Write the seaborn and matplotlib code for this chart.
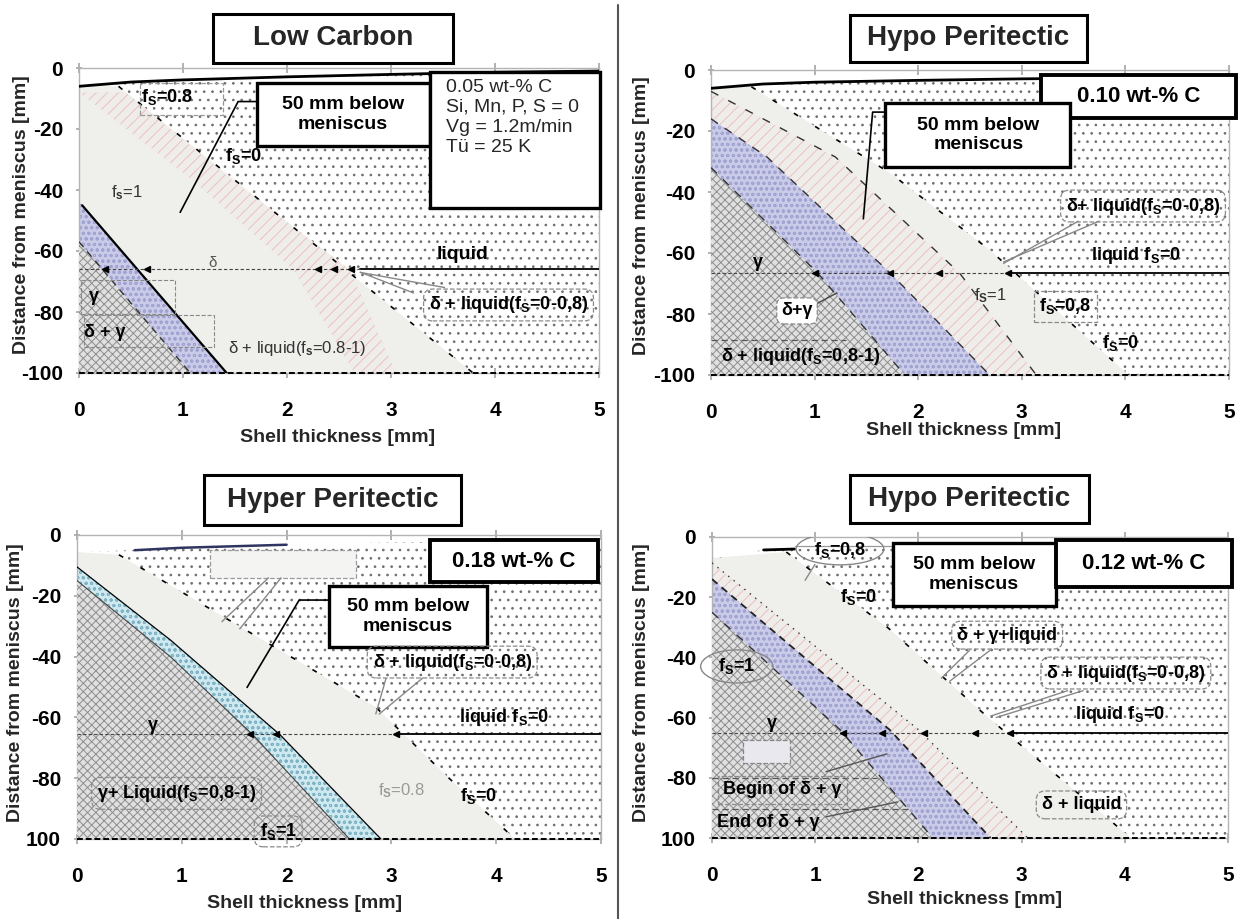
import numpy as np
import pandas as pd
import matplotlib
matplotlib.use("Agg")
import matplotlib.pyplot as plt
import seaborn as sns
from matplotlib.patches import Rectangle, Ellipse
from matplotlib.lines import Line2D

sns.set_theme(style="white")
plt.rcParams["font.family"] = ["Liberation Sans", "DejaVu Sans"]
plt.rcParams["mathtext.fontset"] = "custom"
plt.rcParams["mathtext.rm"] = "Liberation Sans:bold"
plt.rcParams["mathtext.it"] = "Liberation Sans:bold"
plt.rcParams["mathtext.bf"] = "Liberation Sans:bold"
plt.rcParams["mathtext.default"] = "rm"
plt.rcParams["hatch.linewidth"] = 0.7

W, H = 1241, 919

# ---------------- shared axis data ----------------
x_ticks = [0, 1, 2, 3, 4, 5]
y_ticks = [0, -20, -40, -60, -80, -100]
y_labels_top = ["0", "-20", "-40", "-60", "-80", "-100"]
y_labels_bottom = ["0", "-20", "-40", "-60", "-80", "100"]
titles = ["Low Carbon", "Hypo Peritectic", "Hyper Peritectic", "Hypo Peritectic"]
carbon = ["0.05 wt-% C", "0.10 wt-% C", "0.18 wt-% C", "0.12 wt-% C"]
xlabel = "Shell thickness [mm]"
ylabel = "Distance from meniscus [mm]"

# ---------------- panel 1 : Low Carbon ----------------
p1_top_x = [0, 0.5, 1, 2, 3, 4, 5]
p1_top_y = [-6, -4.6, -3.9, -2.9, -2.1, -1.4, -1.0]
p1_fs0_x = [0.38, 1.98, 3.79]
p1_fs0_y = [-6, -50, -100]
p1_red_l_x = [0.0, 1.1, 2.06, 2.65]
p1_red_l_y = [-8, -37, -66, -100]
p1_red_r_x = [0.45, 1.48, 2.6, 3.05]
p1_red_r_y = [-8, -37, -66, -100]
p1_blue_x = [0, 0.03, 1.42]
p1_blue_y = [-44, -45, -100]
p1_cross_x = [0, 1.07]
p1_cross_y = [-57, -100]
p1_hline = -66
p1_hline_start = 2.7
p1_marks = [0.25, 0.65, 2.3, 2.45, 2.62]

# ---------------- panel 2 : Hypo Peritectic 0.10 ----------------
p2_top_x = [0, 0.5, 1, 2, 3, 4, 5]
p2_top_y = [-6, -4.6, -4.0, -3.4, -2.9, -2.6, -2.4]
p2_fs0_x = [0.39, 1.73, 2.69, 4.03]
p2_fs0_y = [-5.5, -33.8, -59, -100]
p2_red_x = [0, 1.2, 2.4, 3.14]
p2_red_y = [-7, -28.5, -66.6, -100]
p2_blue_x = [0, 0.54, 1.73, 2.69]
p2_blue_y = [-16, -28.5, -66.6, -100]
p2_cross_x = [0, 1.03, 1.87]
p2_cross_y = [-32, -66.6, -100]
p2_hline = -66.6
p2_hline_start = 2.87
p2_marks = [1.0, 1.73, 2.2, 2.87]

# ---------------- panel 3 : Hyper Peritectic 0.18 ----------------
p3_top_x = [0, 0.55, 1, 2, 3, 4, 5]
p3_top_y = [-5.6, -5.0, -4.2, -3.0, -2.5, -2.3, -2.2]
p3_fs0_x = [0.4, 1.5, 2.85, 3.55, 4.18]
p3_fs0_y = [-6.5, -29, -56.6, -80, -100]
p3_cyan_x = [0, 0.89, 1.94, 2.9]
p3_cyan_y = [-10.5, -34.5, -65.8, -100]
p3_cross_x = [0, 0.89, 1.68, 2.6]
p3_cross_y = [-15, -40, -65.8, -100]
p3_hline = -65.5
p3_hline_start = 3.04
p3_marks = [1.65, 1.9, 3.04]

# ---------------- panel 4 : Hypo Peritectic 0.12 ----------------
p4_top_x = [0, 0.5, 0.8, 1.5, 2, 3, 4, 5]
p4_top_y = [-7, -4.3, -4.0, -3.4, -3.2, -3.0, -2.9, -2.8]
p4_fs0_x = [0.72, 1.7, 2.67, 4.06]
p4_fs0_y = [-5, -30, -59.8, -100]
p4_red_x = [0, 2.0, 3.06]
p4_red_y = [-8.6, -64, -100]
p4_blue_x = [0, 1.72, 2.7]
p4_blue_y = [-14, -64, -100]
p4_cross_x = [0, 1.24, 2.14]
p4_cross_y = [-25, -64, -100]
p4_hline = -65.1
p4_hline_start = 2.89
p4_marks = [1.27, 1.65, 2.05, 2.55, 2.89]

# ---------------- colours / textures ----------------
C_GREY = "#efefeb"
C_DOT = "#6e6e6e"
C_CROSS_FACE = "#e0e0e0"
C_CROSS_HATCH = "#8e8e8e"
C_BLUE_FACE = "#c9cbe8"
C_BLUE_HATCH = "#a0a2cf"
C_RED_FACE = "#efedea"
C_RED_HATCH = "#ecc0c0"
C_CYAN_FACE = "#cfe9f1"
C_CYAN_HATCH = "#7fb3c3"

fig = plt.figure(figsize=(W / 100, H / 100), dpi=100)


def add_axes_px(l, t, r, b):
    return fig.add_axes([l / W, 1 - b / H, (r - l) / W, (b - t) / H])


def fig_box(l, t, r, b, text, size=20, lw=2.2):
    x0, y1 = l / W, 1 - t / H
    x1, y0 = r / W, 1 - b / H
    fig.add_artist(Rectangle((x0, y0), x1 - x0, y1 - y0, transform=fig.transFigure,
                             fc="white", ec="black", lw=lw, zorder=5))
    fig.text((x0 + x1) / 2, (y0 + y1) / 2, text, ha="center", va="center",
             fontsize=size, fontweight="bold", zorder=6)


def fig_label(x, y, s, rot=0):
    fig.text(x / W, 1 - y / H, s, ha="center", va="center", rotation=rot,
             fontsize=14, fontweight="bold")


def left_poly(ax, bx, by, top_y, fc, hatch=None, hc=None, z=1):
    pts = []
    if bx[0] > 0:
        pts.append((0, top_y))
    pts += list(zip(bx, by))
    pts.append((0, -100))
    xs, ys = zip(*pts)
    ax.fill(xs, ys, facecolor=fc, edgecolor=hc if hc else fc, hatch=hatch, lw=0, zorder=z)


def liquid(ax, tx, ty):
    xs = list(tx) + [5, 0]
    ys = list(ty) + [-100, -100]
    ax.fill(xs, ys, facecolor="white", edgecolor=C_DOT, hatch="..", lw=0, zorder=0.5)


def data_box(ax, x0, x1, y0, y1, lw=2.4):
    ax.add_patch(Rectangle((x0, min(y0, y1)), x1 - x0, abs(y1 - y0), fc="white",
                           ec="black", lw=lw, zorder=8, clip_on=False))


def txt(ax, x, y, s, size=13, color="black", weight="bold", box=None, ha="center", z=9):
    bbox = None
    if box == "round":
        bbox = dict(boxstyle="round,pad=0.3,rounding_size=0.5", fc="none", ec="#8a8a8a", ls="--", lw=0.9)
    elif box == "roundw":
        bbox = dict(boxstyle="round,pad=0.25,rounding_size=0.4", fc="white", ec="#8a8a8a", ls="--", lw=0.9)
    elif box == "sq":
        bbox = dict(boxstyle="square,pad=0.3", fc="none", ec="#8a8a8a", ls="--", lw=0.9)
    ax.text(x, y, s, ha=ha, va="center", fontsize=size, color=color, fontweight=weight,
            bbox=bbox, zorder=z, clip_on=False)


def leader(ax, xs, ys, color="black", lw=1.2, ls="-"):
    ax.plot(xs, ys, color=color, lw=lw, ls=ls, zorder=7, solid_capstyle="butt", clip_on=False)


def style_axes(ax, ylabels):
    ax.set_xlim(0, 5)
    ax.set_ylim(-100, 0)
    ax.set_xticks(x_ticks)
    ax.set_xticklabels([str(v) for v in x_ticks])
    ax.set_yticks(y_ticks)
    ax.set_yticklabels(ylabels)
    ax.set_xlabel("")
    ax.set_ylabel("")
    ax.tick_params(axis="x", bottom=True, top=True, length=0, pad=17, labelsize=15,
                   labelcolor="black")
    ax.tick_params(axis="x", which="major", top=True, length=7, direction="inout",
                   color="#a8a8a8")
    ax.tick_params(axis="y", left=True, length=5, direction="inout", color="#a8a8a8",
                   pad=9, labelsize=15, labelcolor="black")
    for lab in ax.get_xticklabels() + ax.get_yticklabels():
        lab.set_fontweight("bold")
    for s in ax.spines.values():
        s.set_color("#b4b4b4")
        s.set_linewidth(1.0)
    ax.set_facecolor("white")


def hline(ax, y, xstart, marks):
    df = pd.DataFrame({"x": [xstart, 5], "y": [y, y]})
    sns.lineplot(data=df, x="x", y="y", ax=ax, color="black", lw=1.3, estimator=None, zorder=6)
    ax.plot([0, xstart], [y, y], color="#444444", lw=0.8, ls=(0, (3, 2)), zorder=6)
    ax.plot(marks, [y] * len(marks), ls="none", marker="<", ms=5, color="black", zorder=6)


def top_line(ax, tx, ty, color="black", lw=2.0):
    df = pd.DataFrame({"x": tx, "y": ty})
    sns.lineplot(data=df, x="x", y="y", ax=ax, color=color, lw=lw, estimator=None, zorder=6)


def bottom_line(ax):
    ax.plot([0, 5], [-100, -100], color="black", lw=1.4, ls=(0, (3, 1.5)), zorder=6, clip_on=False)


# ======================= PANEL 1 =======================
ax1 = add_axes_px(79, 68, 599, 373)
liquid(ax1, p1_top_x, p1_top_y)
left_poly(ax1, p1_fs0_x, p1_fs0_y, p1_top_y[0], C_GREY, z=1)
rx = p1_red_l_x + p1_red_r_x[::-1]
ry = p1_red_l_y + p1_red_r_y[::-1]
ax1.fill(rx, ry, facecolor=C_RED_FACE, edgecolor=C_RED_HATCH, hatch="///", lw=0, zorder=1.5)
left_poly(ax1, p1_blue_x, p1_blue_y, -44, C_BLUE_FACE, "ooo", C_BLUE_HATCH, z=2)
left_poly(ax1, p1_cross_x, p1_cross_y, -57, C_CROSS_FACE, "xxxx", C_CROSS_HATCH, z=3)
ax1.plot(p1_blue_x[1:], p1_blue_y[1:], color="black", lw=1.6, zorder=5)
ax1.plot(p1_cross_x, p1_cross_y, color="#333", lw=1.0, ls=(0, (5, 4)), zorder=5)
ax1.plot(p1_fs0_x, p1_fs0_y, color="black", lw=1.2, ls=(0, (3, 12)), zorder=5)
top_line(ax1, p1_top_x, p1_top_y)
hline(ax1, p1_hline, p1_hline_start, p1_marks)
bottom_line(ax1)
style_axes(ax1, y_labels_top)
data_box(ax1, 1.71, 3.375, -4.9, -25.6)
txt(ax1, 2.54, -15.2, "50 mm below\nmeniscus", size=14)
leader(ax1, [1.71, 1.53, 0.97], [-11, -11, -47.5])
data_box(ax1, 3.375, 5.01, -1.3, -45.9)
ax1.text(3.53, -3.6, "0.05 wt-% C\nSi, Mn, P, S = 0\nVg = 1.2m/min\nTü = 25 K", ha="left",
         va="top", fontsize=14, linespacing=1.22, zorder=9)
ax1.add_patch(Rectangle((0.59, -15.4), 0.79, 10.5, fc="none", ec="#999", ls="--", lw=0.9, zorder=7))
txt(ax1, 0.85, -9.5, "f$_S$=0.8", size=13)
txt(ax1, 1.58, -29, "f$_S$=0", size=13)
txt(ax1, 0.46, -41, "f$_s$=1", size=12, color="#333", weight="normal")
txt(ax1, 1.28, -64, "δ", size=11, color="#555", weight="normal")
txt(ax1, 3.69, -61.3, "liquid", size=14)
txt(ax1, 4.13, -77.7, "δ + liquid(f$_S$=0-0,8)", size=13, box="round")
leader(ax1, [3.22, 2.7], [-73.8, -66.9], color="#888", lw=1.0)
leader(ax1, [3.52, 2.7], [-72.0, -67.0], color="#888", lw=1.0)
txt(ax1, 0.14, -75, "γ", size=13)
txt(ax1, 0.25, -86.6, "δ + γ", size=13)
ax1.add_patch(Rectangle((0.02, -80.5), 0.9, 11, fc="none", ec="#888", ls="--", lw=0.8, zorder=7))
ax1.add_patch(Rectangle((0.05, -91.5), 1.25, 10.5, fc="none", ec="#888", ls="--", lw=0.8, zorder=7))
txt(ax1, 2.1, -92, "δ + liquid(f$_s$=0.8-1)", size=12, color="#333", weight="normal")

# ======================= PANEL 2 =======================
ax2 = add_axes_px(711, 70, 1229, 375)
liquid(ax2, p2_top_x, p2_top_y)
left_poly(ax2, p2_fs0_x, p2_fs0_y, p2_top_y[0], C_GREY, z=1)
left_poly(ax2, p2_red_x, p2_red_y, -7, C_RED_FACE, "///", C_RED_HATCH, z=1.5)
left_poly(ax2, p2_blue_x, p2_blue_y, -16, C_BLUE_FACE, "ooo", C_BLUE_HATCH, z=2)
left_poly(ax2, p2_cross_x, p2_cross_y, -32, C_CROSS_FACE, "xxxx", C_CROSS_HATCH, z=3)
ax2.plot(p2_fs0_x, p2_fs0_y, color="black", lw=1.2, ls=(0, (3, 12)), zorder=5)
ax2.plot(p2_red_x, p2_red_y, color="#333", lw=1.0, ls=(0, (6, 8)), zorder=5)
ax2.plot(p2_blue_x, p2_blue_y, color="#333", lw=1.0, ls=(0, (6, 6)), zorder=5)
ax2.plot(p2_cross_x, p2_cross_y, color="#333", lw=1.0, ls=(0, (6, 6)), zorder=5)
top_line(ax2, p2_top_x, p2_top_y)
hline(ax2, p2_hline, p2_hline_start, p2_marks)
bottom_line(ax2)
style_axes(ax2, y_labels_top)
data_box(ax2, 3.19, 5.07, -1.6, -15.7, lw=2.8)
txt(ax2, 4.13, -8.7, carbon[1], size=16)
data_box(ax2, 1.68, 3.47, -10.8, -31.8)
txt(ax2, 2.58, -21.3, "50 mm below\nmeniscus", size=14)
leader(ax2, [1.68, 1.56, 1.47], [-13.8, -13.8, -49])
txt(ax2, 4.17, -44.6, "δ+ liquid(f$_S$=0-0,8)", size=13, box="round")
leader(ax2, [3.55, 2.82], [-49.5, -63.5], color="#888", lw=1.0)
leader(ax2, [3.75, 2.82], [-49.5, -63.0], color="#888", lw=1.0)
txt(ax2, 4.1, -60.7, "liquid f$_S$=0", size=13)
txt(ax2, 2.7, -74, "f$_S$=1", size=12, color="#333", weight="normal")
txt(ax2, 3.42, -77.5, "f$_S$=0,8", size=13, box="sq")
txt(ax2, 3.95, -89.5, "f$_S$=0", size=13)
txt(ax2, 0.45, -63, "γ", size=13)
txt(ax2, 0.83, -79, "δ+γ", size=13, box="roundw")
leader(ax2, [1.0, 1.22], [-77, -73], color="#444", lw=1.0)
ax2.plot([0, 1.3], [-88.5, -88.5], color="#555", lw=0.9, ls=(0, (5, 3)), zorder=5)
txt(ax2, 0.86, -94, "δ + liquid(f$_S$=0,8-1)", size=13)

# ======================= PANEL 3 =======================
ax3 = add_axes_px(77, 535, 601, 839)
liquid(ax3, p3_top_x, p3_top_y)
left_poly(ax3, p3_fs0_x, p3_fs0_y, p3_top_y[0], C_GREY, z=1)
left_poly(ax3, p3_cyan_x, p3_cyan_y, -10.5, C_CYAN_FACE, "ooo", C_CYAN_HATCH, z=2)
left_poly(ax3, p3_cross_x, p3_cross_y, -15, C_CROSS_FACE, "xxxx", C_CROSS_HATCH, z=3)
ax3.plot(p3_cyan_x, p3_cyan_y, color="black", lw=0.9, zorder=5)
ax3.plot(p3_cross_x, p3_cross_y, color="#444", lw=0.8, zorder=5)
ax3.plot(p3_fs0_x, p3_fs0_y, color="black", lw=1.2, ls=(0, (3, 12)), zorder=5)
top_line(ax3, p3_top_x[1:4], [-5.0, -4.2, -3.2], color="#2f3560", lw=1.8)
hline(ax3, p3_hline, p3_hline_start, p3_marks)
bottom_line(ax3)
style_axes(ax3, y_labels_bottom)
data_box(ax3, 3.37, 4.97, -1.6, -15.5, lw=2.8)
txt(ax3, 4.17, -8.6, carbon[2], size=16)
data_box(ax3, 2.40, 3.91, -16.8, -36.8)
txt(ax3, 3.16, -26.8, "50 mm below\nmeniscus", size=14)
leader(ax3, [2.4, 2.12, 1.62], [-21.4, -21.4, -50.3])
txt(ax3, 3.58, -41.8, "δ + liquid(f$_S$=0-0,8)", size=13, box="round")
leader(ax3, [2.95, 2.85], [-47, -59], color="#888", lw=1.0)
leader(ax3, [3.3, 2.88], [-47, -59], color="#888", lw=1.0)
txt(ax3, 4.07, -60, "liquid f$_S$=0", size=13)
ax3.add_patch(Rectangle((1.27, -14), 1.39, 9, fc="#f4f4f2", ec="#999", ls="--", lw=0.9, zorder=7))
leader(ax3, [1.83, 1.38], [-14, -28.6], color="#888", lw=1.0)
leader(ax3, [1.95, 1.55], [-14, -31], color="#888", lw=1.0)
txt(ax3, 0.72, -62.5, "γ", size=13)
txt(ax3, 0.95, -85, "γ+ Liquid(f$_S$=0,8-1)", size=13, box="round")
txt(ax3, 1.92, -97.5, "f$_S$=1", size=13, box="round")
txt(ax3, 3.1, -84, "f$_S$=0.8", size=12, color="#9a9a9a", weight="normal")
txt(ax3, 3.83, -86, "f$_S$=0", size=13)

# ======================= PANEL 4 =======================
ax4 = add_axes_px(712, 537, 1228, 838)
liquid(ax4, p4_top_x, p4_top_y)
left_poly(ax4, p4_fs0_x, p4_fs0_y, p4_top_y[0], C_GREY, z=1)
left_poly(ax4, p4_red_x, p4_red_y, -8.6, C_RED_FACE, "///", C_RED_HATCH, z=1.5)
left_poly(ax4, p4_blue_x, p4_blue_y, -14, C_BLUE_FACE, "ooo", C_BLUE_HATCH, z=2)
left_poly(ax4, p4_cross_x, p4_cross_y, -25, C_CROSS_FACE, "xxxx", C_CROSS_HATCH, z=3)
ax4.plot(p4_fs0_x, p4_fs0_y, color="black", lw=1.2, ls=(0, (3, 12)), zorder=5)
ax4.plot(p4_red_x, p4_red_y, color="#333", lw=1.0, ls=(0, (1, 4)), zorder=5)
ax4.plot(p4_blue_x, p4_blue_y, color="#222", lw=1.3, ls=(0, (4, 3)), zorder=5)
ax4.plot(p4_cross_x, p4_cross_y, color="#333", lw=1.0, ls=(0, (6, 6)), zorder=5)
top_line(ax4, p4_top_x[2:], [-3.0] * len(p4_top_x[2:]), color="#999", lw=0.9)
top_line(ax4, p4_top_x[1:3], p4_top_y[1:3], color="black", lw=2.0)
hline(ax4, p4_hline, p4_hline_start, p4_marks)
bottom_line(ax4)
style_axes(ax4, y_labels_bottom)
data_box(ax4, 1.75, 3.33, -2.0, -22.9)
txt(ax4, 2.54, -12.5, "50 mm below\nmeniscus", size=14)
data_box(ax4, 3.33, 5.04, -1.0, -16.6, lw=2.8)
txt(ax4, 4.18, -8.8, carbon[3], size=16)
ax4.add_patch(Ellipse((1.24, -4.0), 0.85, 10.5, fc="none", ec="#888", lw=1.0, zorder=7))
txt(ax4, 1.24, -4.3, "f$_S$=0,8", size=13)
leader(ax4, [1.0, 0.9], [-9.0, -14.5], color="#888", lw=1.0)
txt(ax4, 1.42, -20, "f$_S$=0", size=13)
txt(ax4, 2.86, -32.6, "δ + γ+liquid", size=13, box="round")
leader(ax4, [2.5, 2.22], [-37.5, -47], color="#888", lw=1.0)
leader(ax4, [2.7, 2.3], [-37.5, -48], color="#888", lw=1.0)
txt(ax4, 4.01, -45.2, "δ + liquid(f$_S$=0-0,8)", size=13, box="round")
leader(ax4, [3.45, 2.7], [-51, -59.5], color="#888", lw=1.0)
leader(ax4, [3.6, 2.75], [-51, -60], color="#888", lw=1.0)
txt(ax4, 3.95, -59.1, "liquid f$_S$=0", size=13)
ax4.add_patch(Ellipse((0.24, -43), 0.7, 11, fc="none", ec="#888", lw=1.0, zorder=7, clip_on=False))
txt(ax4, 0.24, -43, "f$_S$=1", size=13)
txt(ax4, 0.58, -61.8, "γ", size=13)
ax4.add_patch(Rectangle((0.3, -75), 0.46, 7.6, fc="#e8e8ee", ec="#888", ls="--", lw=0.9, zorder=7))
ax4.plot([0, 1.6], [-80, -80], color="#555", lw=0.9, ls=(0, (5, 3)), zorder=5)
ax4.plot([0, 1.9], [-90.5, -90.5], color="#555", lw=0.9, ls=(0, (5, 3)), zorder=5)
txt(ax4, 0.68, -84, "Begin of δ + γ", size=13, box="sq")
txt(ax4, 0.55, -94.7, "End of δ + γ", size=13)
leader(ax4, [1.1, 1.7], [-78, -72], color="#555", lw=1.0)
leader(ax4, [1.1, 1.8], [-93, -88], color="#555", lw=1.0)
txt(ax4, 3.58, -89, "δ + liquid", size=13, box="round")

# ---------------- titles, axis labels, divider ----------------
fig_box(213, 14, 453, 63, titles[0])
fig_box(850, 15, 1087, 62, titles[1])
fig_box(204, 475, 461, 525, titles[2])
fig_box(850, 475, 1089, 523, titles[3])

fig_label(338, 437, xlabel)
fig_label(964, 430, xlabel)
fig_label(305, 903, xlabel)
fig_label(965, 900, xlabel)
fig_label(22, 215, ylabel, rot=90)
fig_label(642, 216, ylabel, rot=90)
fig_label(16, 683, ylabel, rot=90)
fig_label(642, 683, ylabel, rot=90)

fig.add_artist(Line2D([618 / W, 618 / W], [0, 1 - 5 / H], transform=fig.transFigure,
                      color="#555555", lw=1.5))

fig.savefig("out.png", dpi=100, facecolor="white")
